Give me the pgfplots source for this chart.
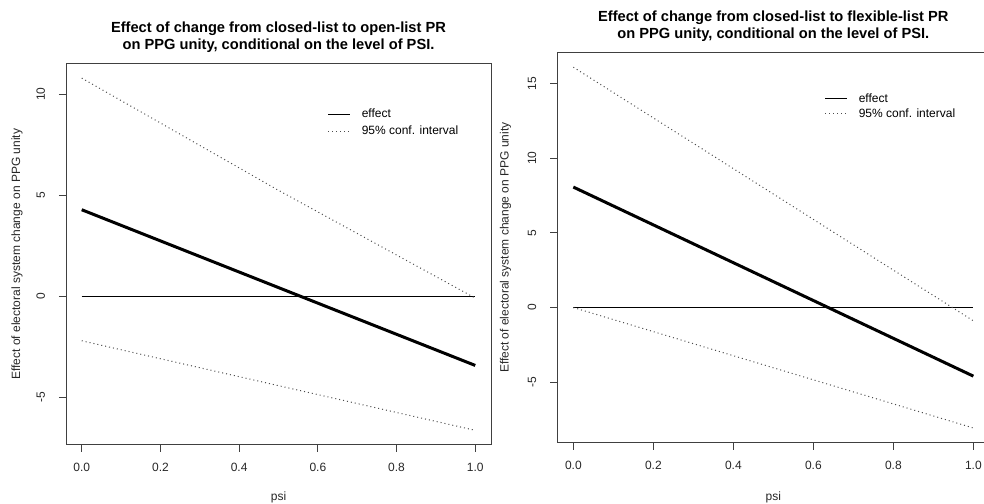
\documentclass[border=0pt]{standalone}
\usepackage{fontspec}
\setmainfont{Liberation Sans}
\usepackage{pgfplots}
\pgfplotsset{compat=1.18}

% R base-graphics look: box, outward ticks, rotated y labels
\pgfplotsset{rplot/.style={
    scale only axis,
    axis line style={black!75, line width=0.75pt},
    xmin=-0.04, xmax=1.04,
    xtick={0,0.2,0.4,0.6,0.8,1},
    xticklabels={0.0,0.2,0.4,0.6,0.8,1.0},
    xtick pos=bottom, ytick pos=left,
    tick align=outside,
    major tick length=5.25pt,
    tick style={black!75, line width=0.75pt},
    every tick label/.append style={font=\fontsize{9}{10}\selectfont, text=black!85},
    yticklabel style={rotate=90, anchor=south},
    xticklabel shift=5pt,
    yticklabel shift=7pt,
    xlabel={psi},
    ylabel={Effect of electoral system change on PPG unity},
    label style={font=\fontsize{9}{10}\selectfont, text=black!85},
    title style={font=\bfseries\fontsize{11}{12.75}\selectfont, align=center, anchor=center},
    legend style={draw=none, fill=none, inner sep=0pt, outer sep=0pt,
        font=\fontsize{9}{10}\selectfont,
        nodes={inner sep=0pt, text height=6.5pt, text depth=1.8pt},
        /tikz/column sep=8.25pt},
    legend cell align=left,
    legend image code/.code={\draw[#1] (0pt,0pt) -- (16.5pt,0pt);},
    ci/.style={black!70, line width=0.75pt, dash pattern=on 0.75pt off 2.25pt},
    eff/.style={black, line width=2.25pt},
    zero/.style={black, line width=0.75pt},
}}

\begin{document}
\begin{tikzpicture}
\begin{axis}[rplot,
    at={(49.5pt,43.875pt)}, anchor=south west,
    width=318.75pt, height=285.4pt,
    ymin=-7.32, ymax=11.50,
    ytick={-5,0,5,10}, yticklabels={-5,0,5,10},
    title={Effect of change from closed-list to open-list PR\\on PPG unity, conditional on the level of PSI.},
    title style={at={(axis description cs:0.5,1.050)}},
    xlabel style={at={(axis description cs:0.5,-0.139)}, anchor=center},
    ylabel style={at={(axis description cs:-0.115,0.5)}, anchor=center},
    legend style={at={(axis description cs:0.616,0.845)}, anchor=west, /tikz/row sep=4.45pt},
]
\addlegendimage{black, line width=0.75pt}
\addlegendentry{effect}
\addlegendimage{ci}
\addlegendentry{95\% conf. interval}
\addplot[zero, forget plot] coordinates {(0,0) (1,0)};
\addplot[ci, forget plot] coordinates {(0,10.80) (0.5,5.25) (1,-0.08)};
\addplot[ci, forget plot] coordinates {(0,-2.19) (0.5,-4.41) (1,-6.62)};
\addplot[eff, forget plot] coordinates {(0,4.29) (1,-3.41)};
\end{axis}

\begin{axis}[rplot,
    at={(418pt,45.375pt)}, anchor=south west,
    width=324pt, height=292.35pt,
    ymin=-9.03, ymax=17.05,
    ytick={-5,0,5,10,15}, yticklabels={-5,0,5,10,15},
    title={Effect of change from closed-list to flexible-list PR\\on PPG unity, conditional on the level of PSI.},
    title style={at={(axis description cs:0.5,1.0465)}},
    xlabel style={at={(axis description cs:0.5,-0.141)}, anchor=center},
    ylabel style={at={(axis description cs:-0.12,0.5)}, anchor=center},
    legend style={at={(axis description cs:0.619,0.862)}, anchor=west, /tikz/row sep=2.95pt},
]
\addlegendimage{black, line width=0.75pt}
\addlegendentry{effect}
\addlegendimage{ci}
\addlegendentry{95\% conf. interval}
\addplot[zero, forget plot] coordinates {(0,0) (1,0)};
\addplot[ci, forget plot] coordinates {(0,16.08) (1,-0.89)};
\addplot[ci, forget plot] coordinates {(0,0.00) (1,-8.06)};
\addplot[eff, forget plot] coordinates {(0,8.06) (1,-4.59)};
\end{axis}

\pgfresetboundingbox
\path[use as bounding box] (0pt,0pt) rectangle (738pt,377.25pt);
\end{tikzpicture}
\end{document}
